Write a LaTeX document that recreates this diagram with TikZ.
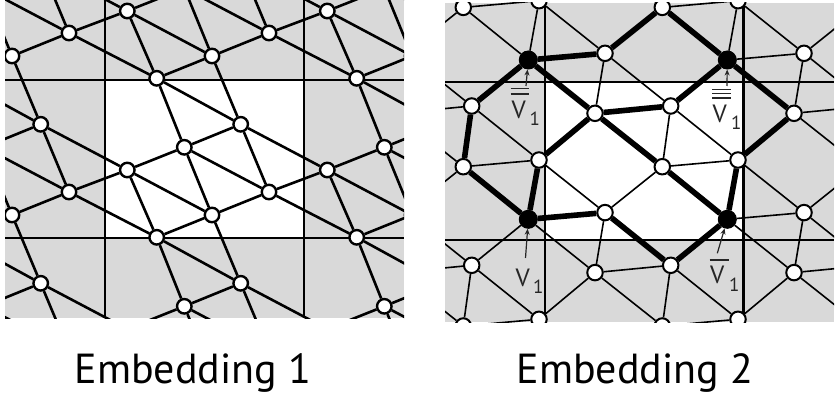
\documentclass[tikz,border=0pt]{standalone}
\usepackage{fontspec}
\setmainfont{PT Sans}
\usetikzlibrary{arrows.meta}
\pgfdeclarelayer{bgfill}
\pgfdeclarelayer{edges}
\pgfsetlayers{bgfill,edges,main}
\definecolor{panelgrey}{RGB}{217,217,217}
\tikzset{
  lvtx/.style={circle, draw=black, fill=white, line width=2.4pt, minimum size=14.5pt, inner sep=0pt},
  rvtx/.style={circle, draw=black, fill=white, line width=2pt, minimum size=15.5pt, inner sep=0pt},
  bvtx/.style={circle, draw=black, fill=black, line width=1pt, minimum size=18pt, inner sep=0pt},
  ledge/.style={line width=2.6pt},
  redge/.style={line width=1.6pt},
  thickedge/.style={line width=5.6pt},
  lgrid/.style={line width=2.9pt},
  rgrid/.style={line width=2.3pt},
  barline/.style={line width=1.3pt, black!85},
  lblarrow/.style={line width=1.2pt, black!85, -{Stealth[length=6pt,width=5pt]}},
  caption/.style={font=\fontsize{42}{50}\selectfont, inner sep=0pt},
  vlabel/.style={font=\fontsize{25}{28}\selectfont, text=black!85, inner sep=0pt},
  sublabel/.style={font=\fontsize{19}{22}\selectfont, text=black!85, inner sep=0pt},
}
\begin{document}
\begin{tikzpicture}[x=1pt,y=-1pt]
\useasboundingbox (0,0) rectangle (836,401);

% ---------- backgrounds ----------
\begin{pgfonlayer}{bgfill}
  \fill[panelgrey] (5,0) rectangle (404,318);
  \fill[white] (105,80) rectangle (304,238);
  \fill[panelgrey] (445,3) rectangle (834,322);
  \fill[white] (545,81.7) rectangle (743.5,240);
\end{pgfonlayer}

% ---------- Embedding 1 : vertices ----------
\begin{scope}
  \clip (5,0) rectangle (404,318);
  \foreach \i in {-2,...,3}{\foreach \j in {-2,...,3}{
    \node[lvtx] (P1x\i y\j) at ({127.3+200*\i},{170+159*\j}) {};
    \node[lvtx] (P2x\i y\j) at ({269+200*\i},{192+159*\j}) {};
    \node[lvtx] (P3x\i y\j) at ({212+200*\i},{215+159*\j}) {};
    \node[lvtx] (P4x\i y\j) at ({156.7+200*\i},{78.3+159*\j}) {};
    \node[lvtx] (P5x\i y\j) at ({240.7+200*\i},{124.3+159*\j}) {};
    \node[lvtx] (P6x\i y\j) at ({184.3+200*\i},{147.3+159*\j}) {};
  }}
\end{scope}

% ---------- Embedding 1 : edges ----------
\begin{pgfonlayer}{edges}
\begin{scope}
  \clip (5,0) rectangle (404,318);
  \foreach \i in {-1,...,2}{\foreach \j in {-1,...,2}{
    \pgfmathtruncatemacro\ip{\i+1}
    \pgfmathtruncatemacro\im{\i-1}
    \pgfmathtruncatemacro\jm{\j-1}
    \draw[ledge]
      (P4x\i y\j) -- (P2x\im y\jm)
      (P4x\i y\j) -- (P1x\i y\jm)
      (P4x\i y\j) -- (P3x\i y\jm)
      (P4x\i y\j) -- (P5x\i y\j)
      (P4x\i y\j) -- (P6x\i y\j)
      (P5x\i y\j) -- (P3x\i y\jm)
      (P5x\i y\j) -- (P6x\i y\j)
      (P5x\i y\j) -- (P2x\i y\j)
      (P5x\i y\j) -- (P1x\ip y\j)
      (P6x\i y\j) -- (P1x\i y\j)
      (P6x\i y\j) -- (P3x\i y\j)
      (P6x\i y\j) -- (P2x\i y\j)
      (P1x\i y\j) -- (P3x\i y\j)
      (P1x\i y\j) -- (P2x\im y\j)
      (P2x\i y\j) -- (P3x\i y\j);
  }}
  \draw[lgrid] (105,0) -- (105,318) (304,0) -- (304,318)
               (5,80) -- (404,80) (5,238) -- (404,238);
\end{scope}
\end{pgfonlayer}

% ---------- Embedding 2 : vertices ----------
\begin{scope}
  \clip (445,3) rectangle (834,322);
  \foreach \i in {-2,...,3}{\foreach \j in {-2,...,3}{
    \node[bvtx] (R1x\i y\j) at ({528.3+199*\i},{60+159.3*\j}) {};
    \node[rvtx] (R2x\i y\j) at ({605+199*\i},{53.3+159.3*\j}) {};
    \node[rvtx] (R3x\i y\j) at ({471.7+199*\i},{106+159.3*\j}) {};
    \node[rvtx] (R4x\i y\j) at ({595+199*\i},{113.3+159.3*\j}) {};
    \node[rvtx] (R5x\i y\j) at ({539+199*\i},{160+159.3*\j}) {};
    \node[rvtx] (R6x\i y\j) at ({463.3+199*\i},{166.7+159.3*\j}) {};
  }}
\end{scope}

% ---------- Embedding 2 : edges ----------
\begin{pgfonlayer}{edges}
\begin{scope}
  \clip (445,3) rectangle (834,322);
  \foreach \i in {-1,...,2}{\foreach \j in {-1,...,2}{
    \pgfmathtruncatemacro\ip{\i+1}
    \pgfmathtruncatemacro\im{\i-1}
    \pgfmathtruncatemacro\jm{\j-1}
    \draw[redge]
      (R1x\i y\j) -- (R2x\i y\j)
      (R1x\i y\j) -- (R3x\i y\j)
      (R1x\i y\j) -- (R4x\i y\j)
      (R1x\i y\j) -- (R5x\i y\jm)
      (R1x\i y\j) -- (R6x\i y\jm)
      (R2x\i y\j) -- (R4x\i y\j)
      (R2x\i y\j) -- (R5x\i y\jm)
      (R2x\i y\j) -- (R3x\ip y\j)
      (R2x\i y\j) -- (R6x\ip y\jm)
      (R3x\i y\j) -- (R6x\i y\j)
      (R3x\i y\j) -- (R5x\i y\j)
      (R3x\i y\j) -- (R4x\im y\j)
      (R4x\i y\j) -- (R5x\i y\j)
      (R4x\i y\j) -- (R6x\ip y\j)
      (R5x\i y\j) -- (R6x\i y\j);
  }}
  \draw[rgrid] (545,3) -- (545,322) (743.5,3) -- (743.5,322)
               (445,81.7) -- (834,81.7) (445,240) -- (834,240);
  \draw[thickedge]
    (R1x0y0) -- (R2x0y0)  (R1x0y0) -- (R3x0y0)  (R1x0y0) -- (R4x0y0)
    (R2x0y0) -- (R6x1y-1) (R6x1y-1) -- (R1x1y0)
    (R1x1y0) -- (R4x1y0)  (R1x1y0) -- (R3x1y0)  (R3x1y0) -- (R4x0y0)
    (R4x1y0) -- (R5x1y0)  (R5x1y0) -- (R1x1y1)  (R1x1y1) -- (R3x1y1)
    (R6x1y0) -- (R1x1y1)  (R4x0y0) -- (R6x1y0)  (R4x0y0) -- (R5x0y0)
    (R5x0y0) -- (R1x0y1)  (R3x0y0) -- (R6x0y0)  (R6x0y0) -- (R1x0y1)
    (R1x0y1) -- (R2x0y1)  (R2x0y1) -- (R3x1y1);
\end{scope}
\end{pgfonlayer}

% ---------- labels ----------
% double bar
\node[vlabel, anchor=base west] (vA) at (511.5,118.5) {V};
\node[sublabel, anchor=base west] (sA) at (529.5,125.5) {1};
\draw[barline] (510.5,88.8) -- (528.5,88.8) (510.5,94) -- (528.5,94);
\coordinate (aA) at (526,86);
\draw[lblarrow] (aA) -- (R1x0y0);
% triple bar
\node[vlabel, anchor=base west] (vB) at (712.5,122.7) {V};
\node[sublabel, anchor=base west] (sB) at (731,130) {1};
\draw[barline] (712,89.5) -- (730.5,89.5) (712,93.8) -- (730.5,93.8) (712,98) -- (730.5,98);
\coordinate (aB) at (727,86);
\draw[lblarrow] (aB) -- (R1x1y0);
% no bar
\node[vlabel, anchor=base west] (vC) at (515.5,286.7) {V};
\node[sublabel, anchor=base west] (sC) at (533,293.3) {1};
\coordinate (aC) at (525.5,258);
\draw[lblarrow] (aC) -- (R1x0y1);
% single bar
\node[vlabel, anchor=base west] (vD) at (710,283.3) {V};
\node[sublabel, anchor=base west] (sD) at (729,291.5) {1};
\draw[barline] (709.5,260) -- (728.5,260);
\coordinate (aD) at (717.3,253.3);
\draw[lblarrow] (aD) -- (R1x1y1);

% ---------- captions ----------
\node[caption, anchor=base] (cap1) at (193,383) {Embedding 1};
\node[caption, anchor=base] (cap2) at (635,383) {Embedding 2};
\end{tikzpicture}
\end{document}
